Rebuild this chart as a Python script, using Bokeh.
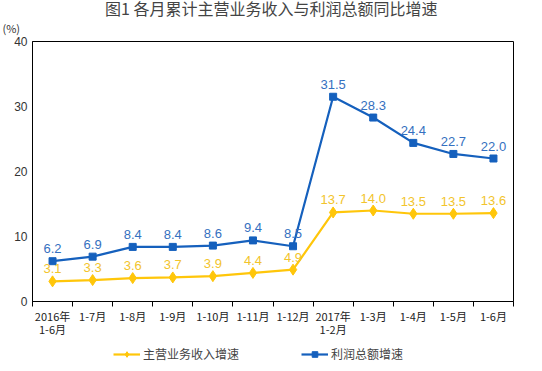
from bokeh.plotting import figure
from bokeh.layouts import column
from bokeh.models import FixedTicker, Title, Legend, LegendItem, ColumnDataSource, Range1d
from bokeh.core.properties import value
from bokeh.embed import file_html
from bokeh.resources import INLINE

categories = ["2016年\n1-6月", "1-7月", "1-8月", "1-9月", "1-10月", "1-11月", "1-12月",
              "2017年\n1-2月", "1-3月", "1-4月", "1-5月", "1-6月"]
revenue = [3.1, 3.3, 3.6, 3.7, 3.9, 4.4, 4.9, 13.7, 14.0, 13.5, 13.5, 13.6]
profit = [6.2, 6.9, 8.4, 8.4, 8.6, 9.4, 8.5, 31.5, 28.3, 24.4, 22.7, 22.0]
y_ticks = [0, 10, 20, 30, 40]
series_names = ["主营业务收入增速", "利润总额增速"]

n = len(categories)
xs = [i + 0.5 for i in range(n)]

BLUE = "#1560BD"
BLUE_TXT = "#3570C0"
YEL = "#FFC60A"
YEL_TXT = "#F2C42C"
CJK = "Noto Sans CJK SC"
NUM = "Liberation Sans"

src_r = ColumnDataSource(dict(x=xs, y=revenue, t=[f"{v:.1f}" for v in revenue]))
src_p = ColumnDataSource(dict(x=xs, y=profit, t=[f"{v:.1f}" for v in profit]))

p = figure(width=534, height=348, x_range=(0, n), y_range=(0, 40),
           output_backend="svg", toolbar_location=None,
           min_border_left=32, min_border_right=21, min_border_top=41, min_border_bottom=47)

p.title.text = "图1  各月累计主营业务收入与利润总额同比增速"
p.title.align = "center"
p.title.text_font = CJK
p.title.text_font_size = "16px"
p.title.text_font_style = "normal"
p.title.offset = -7
p.title.standoff = -15

p.add_layout(Title(text="(%)", align="left", offset=-30, standoff=11,
                   text_font=CJK, text_font_size="11px", text_font_style="normal",
                   text_color="#333333"), "above")

p.xgrid.visible = False
p.ygrid.visible = False
p.outline_line_color = "black"
p.outline_line_width = 1

p.yaxis.ticker = FixedTicker(ticks=y_ticks)
p.yaxis.major_tick_out = 0
p.yaxis.major_tick_in = 0
p.yaxis.minor_tick_out = 0
p.yaxis.minor_tick_in = 0
p.yaxis.major_label_text_font = NUM
p.yaxis.major_label_text_font_size = "12px"
p.yaxis.major_label_text_color = "#333333"
p.yaxis.major_label_standoff = 5
p.yaxis.axis_line_color = "black"

p.xaxis.ticker = FixedTicker(ticks=xs, minor_ticks=list(range(n + 1)))
p.xaxis.major_label_overrides = {x: c for x, c in zip(xs, categories)}
p.xaxis.major_tick_out = 0
p.xaxis.major_tick_in = 0
p.xaxis.minor_tick_out = 5
p.xaxis.minor_tick_in = 0
p.xaxis.minor_tick_line_color = "black"
p.xaxis.major_label_text_font = CJK
p.xaxis.major_label_text_font_size = "11px"
p.xaxis.major_label_text_line_height = 0.85
p.xaxis.major_label_text_color = "#222222"
p.xaxis.major_label_standoff = 1
p.xaxis.axis_line_color = "black"

p.line("x", "y", source=src_r, line_color=YEL, line_width=2.2)
p.scatter("x", "y", source=src_r, marker="diamond", size=11, fill_color=YEL, line_color=YEL)
p.line("x", "y", source=src_p, line_color=BLUE, line_width=2.2)
p.scatter("x", "y", source=src_p, marker="square", size=7, fill_color=BLUE, line_color=BLUE)

p.text("x", "y", text="t", source=src_r, text_align="center", text_baseline="bottom",
       y_offset=-8, text_color=YEL_TXT, text_font=value(NUM), text_font_size="13px")
p.text("x", "y", text="t", source=src_p, text_align="center", text_baseline="bottom",
       y_offset=-8, text_color=BLUE_TXT, text_font=value(NUM), text_font_size="13px")

# legend strip below the chart (series drawn out of view; only legend shows)
lg = figure(width=534, height=23, output_backend="svg", toolbar_location=None,
            x_range=Range1d(0, n), y_range=Range1d(100, 101),
            min_border_left=32, min_border_right=21, min_border_top=0, min_border_bottom=0)
lg.axis.visible = False
lg.xgrid.visible = False
lg.ygrid.visible = False
lg.outline_line_color = None
l1 = lg.line("x", "y", source=src_r, line_color=YEL, line_width=2.2)
s1 = lg.scatter("x", "y", source=src_r, marker="diamond", size=11, fill_color=YEL, line_color=YEL)
l2 = lg.line("x", "y", source=src_p, line_color=BLUE, line_width=2.2)
s2 = lg.scatter("x", "y", source=src_p, marker="square", size=7, fill_color=BLUE, line_color=BLUE)

legend = Legend(items=[LegendItem(label=series_names[0], renderers=[l1, s1]),
                       LegendItem(label=series_names[1], renderers=[l2, s2])],
                orientation="horizontal", location=(81, 9))
legend.border_line_color = None
legend.background_fill_alpha = 0
legend.label_text_font = CJK
legend.label_text_font_size = "12px"
legend.glyph_width = 27
legend.glyph_height = 14
legend.label_height = 14
legend.spacing = 62
legend.label_standoff = 3
legend.padding = 0
legend.margin = 0
lg.add_layout(legend, "center")

layout = column(p, lg, spacing=0)
open("out.html", "w").write(file_html(layout, INLINE))
